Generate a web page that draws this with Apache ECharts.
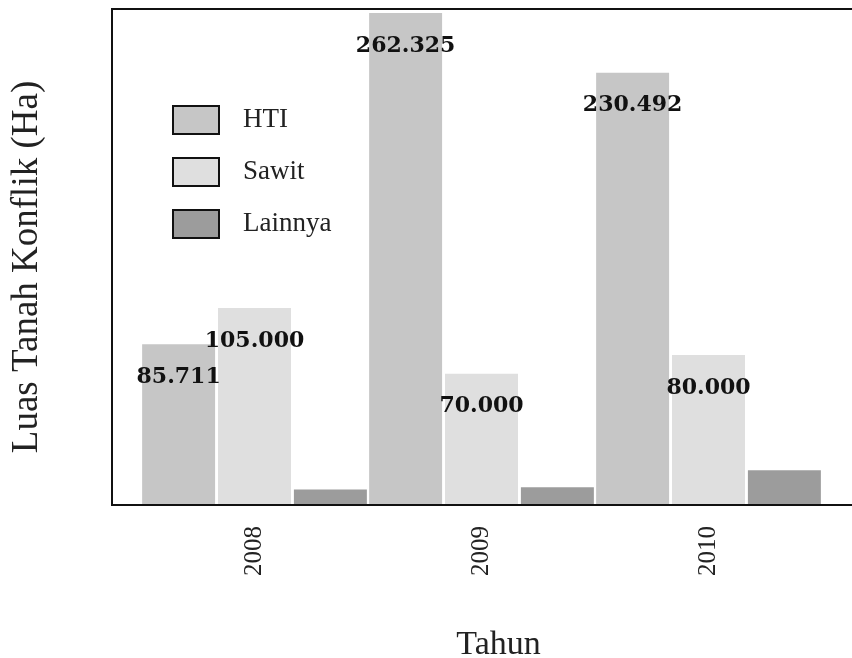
<!DOCTYPE html>
<html>
<head>
<meta charset="utf-8">
<script src="https://cdn.jsdelivr.net/npm/echarts@6/dist/echarts.min.js"></script>
<style>html,body{margin:0;padding:0;background:#fff;}#c{width:852px;height:658px;}</style>
</head>
<body>
<div id="c"></div>
<script>
const categories = ['2008', '2009', '2010'];
const seriesNames = ['HTI', 'Sawit', 'Lainnya'];
const htiValues = [85711, 262325, 230492];
const sawitValues = [105000, 70000, 80000];
const lainnyaValues = [8200, 9400, 18500];
const xAxisTitle = 'Tahun';
const yAxisTitle = 'Luas Tanah Konflik (Ha)';

function fmt(v) {
  return String(v).replace(/\B(?=(\d{3})+(?!\d))/g, '.');
}

const chart = echarts.init(document.getElementById('c'), null, {renderer: 'canvas'});
const labelStyle = {
  show: true,
  position: 'insideTop',
  distance: 22,
  fontFamily: 'DejaVu Serif',
  fontWeight: 'bold',
  fontSize: 22,
  color: '#111',
  formatter: p => fmt(p.value)
};
const serif = 'Liberation Serif';
chart.setOption({
  animation: false,
  backgroundColor: '#fff',
  grid: [
    {left: 141, right: 30, top: 9, bottom: 153, outerBoundsMode: 'none', containLabel: false},
    {left: 112, width: 780, top: 9, bottom: 153, show: true, z: 10, outerBoundsMode: 'none', containLabel: false,
     backgroundColor: 'transparent', borderColor: '#111', borderWidth: 2}
  ],
  xAxis: [
    {type: 'category', gridIndex: 0, data: categories,
     axisLine: {show: false}, axisTick: {show: false},
     axisLabel: {rotate: 90, margin: 21, fontFamily: serif, fontSize: 25, color: '#222'},
     name: xAxisTitle, nameLocation: 'middle', nameGap: 123,
     nameTextStyle: {fontFamily: serif, fontSize: 34, color: '#222', padding: [0, 0, 0, 34]}},
    {type: 'value', gridIndex: 1, show: false, min: 0, max: 1}
  ],
  yAxis: [
    {type: 'value', gridIndex: 0, min: 0, max: 264500,
     axisLine: {show: false}, axisTick: {show: false}, axisLabel: {show: false}, splitLine: {show: false},
     name: yAxisTitle, nameLocation: 'middle', nameGap: 95,
     nameTextStyle: {fontFamily: serif, fontSize: 37, color: '#222', padding: [0, 20, 0, 0]}},
    {type: 'value', gridIndex: 1, show: false, min: 0, max: 1}
  ],
  legend: {
    orient: 'vertical', left: 167, top: 100,
    itemWidth: 46, itemHeight: 28, itemGap: 22,
    icon: 'rect',
    itemStyle: {borderColor: '#111', borderWidth: 2},
    textStyle: {fontFamily: serif, fontSize: 27, color: '#222', padding: [0, 0, 0, 19]},
    data: seriesNames
  },
  series: [
    {name: seriesNames[0], type: 'bar', data: htiValues, barGap: '4%', barCategoryGap: '1%',
     itemStyle: {color: '#c6c6c6'}, label: labelStyle},
    {name: seriesNames[1], type: 'bar', data: sawitValues,
     itemStyle: {color: '#dfdfdf'}, label: labelStyle},
    {name: seriesNames[2], type: 'bar', data: lainnyaValues,
     itemStyle: {color: '#9c9c9c'}, label: {show: false}}
  ]
});
</script>
</body>
</html>
